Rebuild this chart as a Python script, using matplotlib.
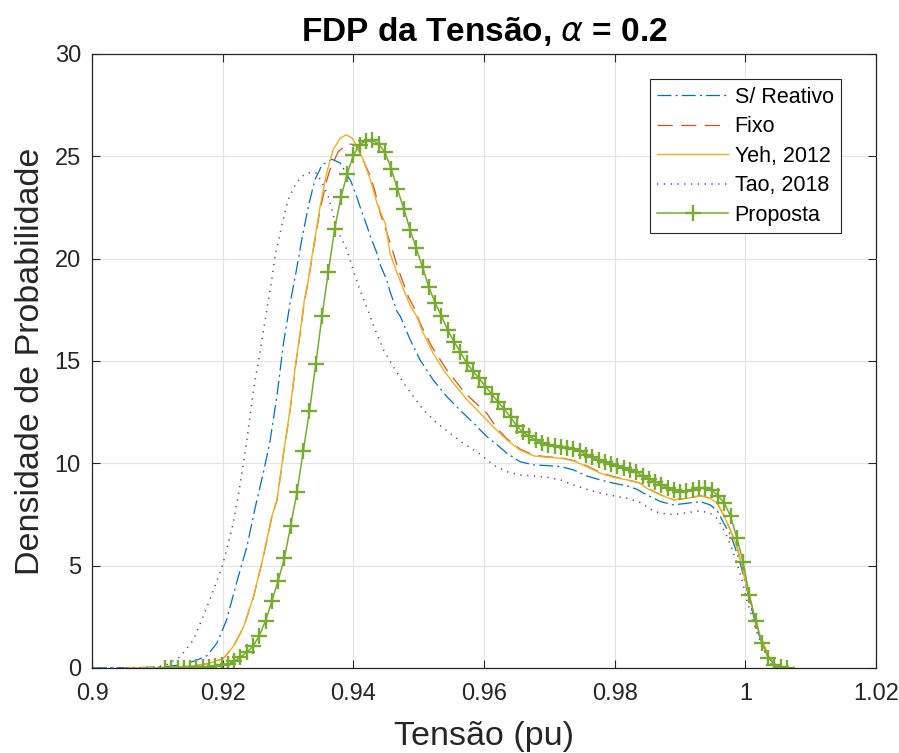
import matplotlib
matplotlib.use('Agg')
import matplotlib.pyplot as plt

plt.rcParams['font.family'] = ['Liberation Sans', 'DejaVu Sans']
plt.rcParams['mathtext.fontset'] = 'dejavusans'
plt.rcParams['lines.scale_dashes'] = False

# S/ Reativo
x_sr = [0.9000, 0.9070, 0.9111, 0.9135, 0.9158, 0.9176, 0.9191, 0.9206, 0.9221, 0.9237,
        0.9250, 0.9262, 0.9272, 0.9283, 0.9293, 0.9303, 0.9311, 0.9321, 0.9331, 0.9341,
        0.9352, 0.9367, 0.9380, 0.9390, 0.9396, 0.9405, 0.9410, 0.9421, 0.9426, 0.9436,
        0.9441, 0.9451, 0.9456, 0.9467, 0.9472, 0.9487, 0.9502, 0.9522, 0.9543, 0.9563,
        0.9584, 0.9604, 0.9620, 0.9635, 0.9655, 0.9676, 0.9696, 0.9717, 0.9737, 0.9757,
        0.9778, 0.9798, 0.9819, 0.9834, 0.9849, 0.9870, 0.9890, 0.9911, 0.9931, 0.9946,
        0.9957, 0.9967, 0.9977, 0.9982, 0.9992, 1.0000, 1.0010, 1.0020, 1.0033, 1.0046, 1.0060]
y_sr = [0.0, 0.02, 0.06, 0.15, 0.35, 0.6, 1.21, 2.35, 4.14, 5.93,
        7.88, 9.52, 11.0, 13.3, 15.87, 17.8, 19.13, 20.92, 22.55, 23.85,
        24.58, 24.86, 24.67, 24.10, 23.8, 23.04, 22.55, 21.57, 21.08, 20.27,
        19.7, 18.96, 18.4, 17.4, 17.17, 16.03, 15.05, 14.08, 13.26, 12.61,
        11.96, 11.31, 10.9, 10.49, 10.08, 9.92, 9.89, 9.84, 9.68, 9.38,
        9.19, 9.03, 8.90, 8.73, 8.46, 8.13, 7.97, 8.05, 8.13, 7.97,
        7.68, 7.07, 6.50, 6.09, 5.12, 4.14, 2.83, 1.69, 0.64, 0.1, 0.0]

# Fixo
x_fx = [0.9050, 0.9111, 0.9153, 0.9176, 0.9186, 0.9201, 0.9216, 0.9232, 0.9247, 0.9262,
        0.9275, 0.9283, 0.9293, 0.9303, 0.9311, 0.9319, 0.9325, 0.9331, 0.9339, 0.9349,
        0.9359, 0.9364, 0.9377, 0.9392, 0.9403, 0.9410, 0.9426, 0.9433, 0.9441, 0.9456,
        0.9469, 0.9484, 0.9493, 0.9502, 0.9520, 0.9543, 0.9571, 0.9604, 0.9620, 0.9635,
        0.9655, 0.9676, 0.9696, 0.9717, 0.9737, 0.9757, 0.9778, 0.9798, 0.9819, 0.9839,
        0.9849, 0.9870, 0.9890, 0.9911, 0.9931, 0.9946, 0.9957, 0.9967, 0.9977, 0.9987,
        0.9995, 1.0002, 1.0013, 1.0023, 1.0036, 1.0048, 1.0060]
y_fx = [0.0, 0.02, 0.1, 0.2, 0.3, 0.47, 1.04, 2.0, 3.45, 5.4,
        7.35, 8.2, 10.45, 12.55, 14.65, 16.45, 17.9, 18.9, 20.5, 22.4,
        23.8, 24.34, 25.24, 25.61, 25.56, 25.16, 24.02, 23.3, 22.22, 20.8,
        19.45, 18.15, 17.6, 16.85, 15.7, 14.56, 13.43, 12.45, 11.7, 11.2,
        10.7, 10.4, 10.32, 10.27, 10.14, 9.88, 9.55, 9.35, 9.2, 9.03,
        8.8, 8.47, 8.22, 8.3, 8.42, 8.3, 8.05, 7.45, 6.74, 5.93,
        4.95, 3.97, 2.67, 1.53, 0.55, 0.06, 0.0]

# Yeh, 2012
x_yeh = [0.9050, 0.9111, 0.9153, 0.9176, 0.9186, 0.9201, 0.9216, 0.9232, 0.9247, 0.9262,
         0.9275, 0.9283, 0.9293, 0.9303, 0.9311, 0.9319, 0.9325, 0.9331, 0.9339, 0.9349,
         0.9359, 0.9369, 0.9380, 0.9389, 0.9398, 0.9406, 0.9415, 0.9426, 0.9436, 0.9449,
         0.9456, 0.9467, 0.9477, 0.9487, 0.9497, 0.9507, 0.9522, 0.9538, 0.9553, 0.9574,
         0.9594, 0.9614, 0.9635, 0.9655, 0.9676, 0.9696, 0.9717, 0.9737, 0.9757, 0.9778,
         0.9798, 0.9819, 0.9839, 0.9849, 0.9870, 0.9890, 0.9911, 0.9931, 0.9946, 0.9957,
         0.9967, 0.9977, 0.9987, 0.9995, 1.0002, 1.0013, 1.0023, 1.0036, 1.0048, 1.0060]
y_yeh = [0.0, 0.02, 0.1, 0.2, 0.3, 0.47, 1.04, 2.02, 3.48, 5.44,
         7.40, 8.21, 10.49, 12.61, 14.73, 16.52, 17.99, 18.96, 20.59, 22.55,
         24.18, 25.32, 25.89, 26.05, 25.89, 25.48, 24.83, 23.85, 22.71, 21.7,
         20.27, 19.29, 18.48, 17.7, 17.17, 16.36, 15.38, 14.56, 13.92, 13.10,
         12.45, 11.79, 11.14, 10.65, 10.36, 10.30, 10.25, 10.12, 9.84, 9.52,
         9.32, 9.19, 9.03, 8.78, 8.46, 8.21, 8.29, 8.41, 8.29, 8.05,
         7.45, 6.74, 5.93, 4.95, 3.97, 2.67, 1.53, 0.55, 0.06, 0.0]

# Tao, 2018
x_tao = [0.9000, 0.9060, 0.9094, 0.9114, 0.9135, 0.9155, 0.9170, 0.9186, 0.9199, 0.9206,
         0.9216, 0.9227, 0.9237, 0.9247, 0.9255, 0.9260, 0.9265, 0.9270, 0.9275, 0.9280,
         0.9287, 0.9290, 0.9300, 0.9311, 0.9321, 0.9331, 0.9344, 0.9354, 0.9362, 0.9371,
         0.9380, 0.9390, 0.9398, 0.9408, 0.9418, 0.9426, 0.9431, 0.9446, 0.9461, 0.9477,
         0.9492, 0.9507, 0.9528, 0.9548, 0.9568, 0.9594, 0.9614, 0.9635, 0.9655, 0.9676,
         0.9696, 0.9717, 0.9737, 0.9757, 0.9778, 0.9798, 0.9819, 0.9839, 0.9859, 0.9870,
         0.9890, 0.9911, 0.9931, 0.9946, 0.9957, 0.9964, 0.9972, 0.9980, 0.9987, 0.9995,
         1.0002, 1.0010, 1.0018, 1.0028, 1.0038, 1.0048, 1.0060]
y_tao = [0.0, 0.0, 0.02, 0.15, 0.55, 1.37, 2.51, 3.81, 4.95, 5.77,
         7.07, 9.03, 11.14, 13.59, 15.05, 16.03, 17.01, 17.99, 18.96, 20.1,
         21.11, 21.57, 22.87, 23.61, 24.02, 24.2, 24.18, 23.6, 23.0, 21.9,
         21.1, 20.45, 19.61, 18.64, 17.83, 17.17, 16.7, 15.54, 14.73, 13.92,
         13.26, 12.61, 11.96, 11.47, 10.98, 10.45, 9.92, 9.59, 9.43, 9.38,
         9.32, 9.19, 8.94, 8.73, 8.54, 8.41, 8.29, 8.08, 7.68, 7.56,
         7.50, 7.59, 7.68, 7.56, 7.3, 6.91, 6.42, 5.77, 5.12, 4.30,
         3.32, 2.51, 1.69, 0.88, 0.23, 0.02, 0.0]

# Proposta (100-point density grid)
x_prop = [0.91116, 0.91212, 0.91308, 0.91405, 0.91501, 0.91597, 0.91693, 0.91789, 0.91885, 0.91982,
          0.92078, 0.92174, 0.92270, 0.92366, 0.92462, 0.92559, 0.92655, 0.92751, 0.92847, 0.92943,
          0.93040, 0.93136, 0.93232, 0.93328, 0.93424, 0.93520, 0.93617, 0.93713, 0.93809, 0.93905,
          0.94001, 0.94097, 0.94194, 0.94290, 0.94386, 0.94482, 0.94578, 0.94674, 0.94771, 0.94867,
          0.94963, 0.95059, 0.95155, 0.95252, 0.95348, 0.95444, 0.95540, 0.95636, 0.95732, 0.95829,
          0.95925, 0.96021, 0.96117, 0.96213, 0.96309, 0.96406, 0.96502, 0.96598, 0.96694, 0.96790,
          0.96886, 0.96983, 0.97079, 0.97175, 0.97271, 0.97367, 0.97464, 0.97560, 0.97656, 0.97752,
          0.97848, 0.97944, 0.98041, 0.98137, 0.98233, 0.98329, 0.98425, 0.98521, 0.98618, 0.98714,
          0.98810, 0.98906, 0.99002, 0.99098, 0.99195, 0.99291, 0.99387, 0.99483, 0.99579, 0.99676,
          0.99772, 0.99868, 0.99964, 1.00060, 1.00156, 1.00253, 1.00349, 1.00445, 1.00541, 1.00637]
y_prop = [0.00, 0.00, 0.01, 0.01, 0.02, 0.03, 0.04, 0.06, 0.09, 0.13,
          0.19, 0.32, 0.52, 0.77, 1.05, 1.58, 2.30, 3.25, 4.25, 5.35,
          6.95, 8.58, 10.6, 12.55, 14.85, 17.2, 19.37, 21.45, 23.0, 24.15,
          25.07, 25.57, 25.75, 25.80, 25.6, 25.2, 24.4, 23.4, 22.45, 21.42,
          20.5, 19.58, 18.6, 17.83, 17.2, 16.5, 15.95, 15.45, 14.9, 14.5,
          14.15, 13.75, 13.38, 13.0, 12.65, 12.25, 11.82, 11.52, 11.32, 11.13,
          10.99, 10.9, 10.85, 10.8, 10.75, 10.69, 10.62, 10.43, 10.29, 10.17,
          10.06, 9.95, 9.86, 9.76, 9.68, 9.57, 9.38, 9.25, 9.11, 8.96,
          8.80, 8.68, 8.62, 8.65, 8.70, 8.77, 8.80, 8.70, 8.42, 8.07,
          7.42, 6.37, 5.2, 3.55, 2.3, 1.22, 0.5, 0.17, 0.03, 0.0]

xticks = [0.9, 0.92, 0.94, 0.96, 0.98, 1.0, 1.02]
xtick_labels = ['0.9', '0.92', '0.94', '0.96', '0.98', '1', '1.02']
yticks = [0, 5, 10, 15, 20, 25, 30]

fig = plt.figure(figsize=(8.99, 7.53), dpi=100)
ax = fig.add_axes([0.1024, 0.1129, 0.8721, 0.8154])

ax.plot(x_sr, y_sr, color='#0072BD', lw=0.9, dashes=(10, 3, 1.5, 3), label='S/ Reativo')
ax.plot(x_fx, y_fx, color='#D95319', lw=0.9, dashes=(11, 6), label='Fixo')
ax.plot(x_yeh, y_yeh, color='#EDB120', lw=1.0, label='Yeh, 2012')
ax.plot(x_tao, y_tao, color='#7E2F8E', lw=1.1, dashes=(0.9, 4.0), label='Tao, 2018')
ax.plot(x_prop, y_prop, color='#77AC30', lw=1.1, marker='+', markersize=12,
        markeredgewidth=1.7, label='Proposta')

ax.set_xlim(0.9, 1.02)
ax.set_ylim(0, 30)
ax.set_xticks(xticks)
ax.set_xticklabels(xtick_labels)
ax.set_yticks(yticks)
ax.tick_params(direction='in', length=5.5, width=0.8, labelsize=17, colors='#262626',
               top=True, right=True)
ax.tick_params(axis='x', pad=11)
ax.tick_params(axis='y', pad=8)
for s in ax.spines.values():
    s.set_color('#262626')
    s.set_linewidth(0.9)
ax.grid(True, color='#E3E3E3', linewidth=0.8)
ax.set_axisbelow(True)

ax.set_title(r'FDP da Tensão, $\alpha$ = 0.2', fontsize=24, fontweight='bold', pad=9)
ax.set_xlabel('Tensão (pu)', fontsize=24.5, color='#262626', labelpad=11)
ax.set_ylabel('Densidade de Probabilidade', fontsize=24.5, color='#262626', labelpad=6)

leg = ax.legend(loc='upper right', bbox_to_anchor=(0.9554, 0.9593), borderaxespad=0,
                fontsize=15.5, fancybox=False, framealpha=1, edgecolor='#262626',
                handlelength=3.3, handletextpad=0.3, labelspacing=0.4, borderpad=0.35)
leg.get_frame().set_linewidth(0.8)

plt.savefig('out.png', dpi=100)
